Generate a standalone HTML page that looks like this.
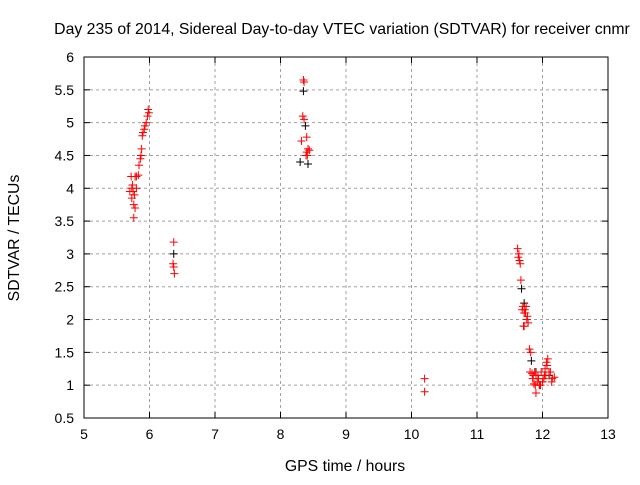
<!DOCTYPE html>
<html><head><meta charset="utf-8"><style>
body{margin:0;background:#fff;}
svg text{font-family:"Liberation Sans",sans-serif;font-size:14px;fill:#000;}
svg text.big{font-size:15.8px;}
</style></head><body>
<svg id="chart" width="640" height="480" xmlns="http://www.w3.org/2000/svg">
<rect width="640" height="480" fill="#fff"/>
<g id="grid"></g><g id="axes"></g><g id="marks"></g>
<text class="big" x="342" y="34" text-anchor="middle">Day 235 of 2014, Sidereal Day-to-day VTEC variation (SDTVAR) for receiver cnmr</text>
<text class="big" x="345" y="471" text-anchor="middle">GPS time / hours</text>
<text class="big" transform="translate(19,238) rotate(-90)" text-anchor="middle">SDTVAR / TECUs</text>
</svg>
<script>
const xTicks=[5,6,7,8,9,10,11,12,13];
const yTicks=[0.5,1,1.5,2,2.5,3,3.5,4,4.5,5,5.5,6];
const yTickLabels=["0.5","1","1.5","2","2.5","3","3.5","4","4.5","5","5.5","6"];
const redX=[5.98,5.99,5.97,5.95,5.93,5.92,5.90,5.89,5.88,5.87,5.86,5.84,5.83,5.80,5.78,5.72,5.73,5.75,5.70,5.77,5.73,5.76,5.78,5.76,5.80,5.74,
6.37,6.36,6.37,6.38,
8.35,8.36,8.34,8.36,8.40,8.32,8.42,8.40,8.41,8.39,8.44,
10.2,10.2,
11.62,11.63,11.65,11.66,11.64,11.67,11.70,11.69,11.72,11.73,11.71,11.75,11.77,11.74,11.78,11.76,11.72,11.80,11.82,11.81,11.84,11.86,11.85,11.88,11.90,11.92,11.89,11.94,11.96,11.93,11.98,12.0,11.97,12.02,12.04,12.06,12.08,12.07,12.1,12.05,12.12,12.15,12.14,12.18,11.95,11.9,12.0,11.87,12.03];
const redY=[5.2,5.15,5.1,5.0,4.95,4.9,4.85,4.8,4.6,4.5,4.45,4.35,4.2,4.18,4.18,4.18,4.0,3.95,3.95,3.9,3.85,3.75,3.7,3.55,4.0,4.05,
3.18,2.85,2.8,2.7,
5.65,5.62,5.1,5.05,4.78,4.72,4.6,4.55,4.5,4.5,4.58,
1.1,0.9,
3.08,2.95,2.9,2.85,3.0,2.6,2.2,2.15,2.1,2.15,1.9,2.2,2.05,2.1,1.95,2.0,1.9,1.55,1.5,1.2,1.18,1.15,1.1,1.2,1.15,1.05,1.0,1.1,1.0,1.15,1.2,1.05,1.0,1.1,1.25,1.35,1.4,1.3,1.2,1.15,1.2,1.1,1.05,1.12,1.0,0.88,1.05,1.02,1.15];
const blackX=[6.37,8.35,8.38,8.30,8.42,11.68,11.72,11.83,11.9,12.1];
const blackY=[3.0,5.48,4.95,4.4,4.37,2.47,2.25,1.37,1.2,1.15];
const L=84,R=608,T=57,B=418;
const xs=v=>L+(v-5)/(13-5)*(R-L);
const ys=v=>B-(v-0.5)/(6-0.5)*(B-T);
const NS="http://www.w3.org/2000/svg";
function mk(t,a,p){const e=document.createElementNS(NS,t);for(const k in a)e.setAttribute(k,a[k]);p.appendChild(e);return e;}
const grid=document.getElementById('grid'),axes=document.getElementById('axes'),marks=document.getElementById('marks');
xTicks.forEach((v,i)=>{const x=xs(v);
 if(i>0&&i<xTicks.length-1){const g=mk('line',{x1:x,x2:x,y1:T,y2:B,stroke:'#a0a0a0','stroke-dasharray':'3,3'},grid);
 
 }
 mk('line',{x1:x,x2:x,y1:B,y2:B-6,stroke:'#000'},axes);mk('line',{x1:x,x2:x,y1:T,y2:T+6,stroke:'#000'},axes);
 const t=mk('text',{x:x,y:B+21,'text-anchor':'middle'},axes);t.textContent=v;
 
 });
yTicks.forEach((v,i)=>{const y=ys(v);
 if(i>0&&i<yTicks.length-1){const g=mk('line',{x1:L,x2:R,y1:y,y2:y,stroke:'#a0a0a0','stroke-dasharray':'3,3'},grid);
 
 }
 mk('line',{x1:L,x2:L+6,y1:y,y2:y,stroke:'#000'},axes);mk('line',{x1:R,x2:R-6,y1:y,y2:y,stroke:'#000'},axes);
 const t=mk('text',{x:L-10,y:y+5,'text-anchor':'end'},axes);t.textContent=yTickLabels[i];
 
 });
const box=mk('rect',{x:L,y:T,width:R-L,height:B-T,fill:'none',stroke:'#000','stroke-width':1},axes);


function plus(x,y,c,name){const g=mk('path',{d:`M${x-4},${y}h8M${x},${y-4}v8`,stroke:c,'stroke-width':1,fill:'none'},marks);
 
 }
blackX.forEach((v,i)=>plus(xs(v),ys(blackY[i]),'#000','black-point'));
redX.forEach((v,i)=>plus(xs(v),ys(redY[i]),'#ff0000','red-point'));
</script>
</body></html>
